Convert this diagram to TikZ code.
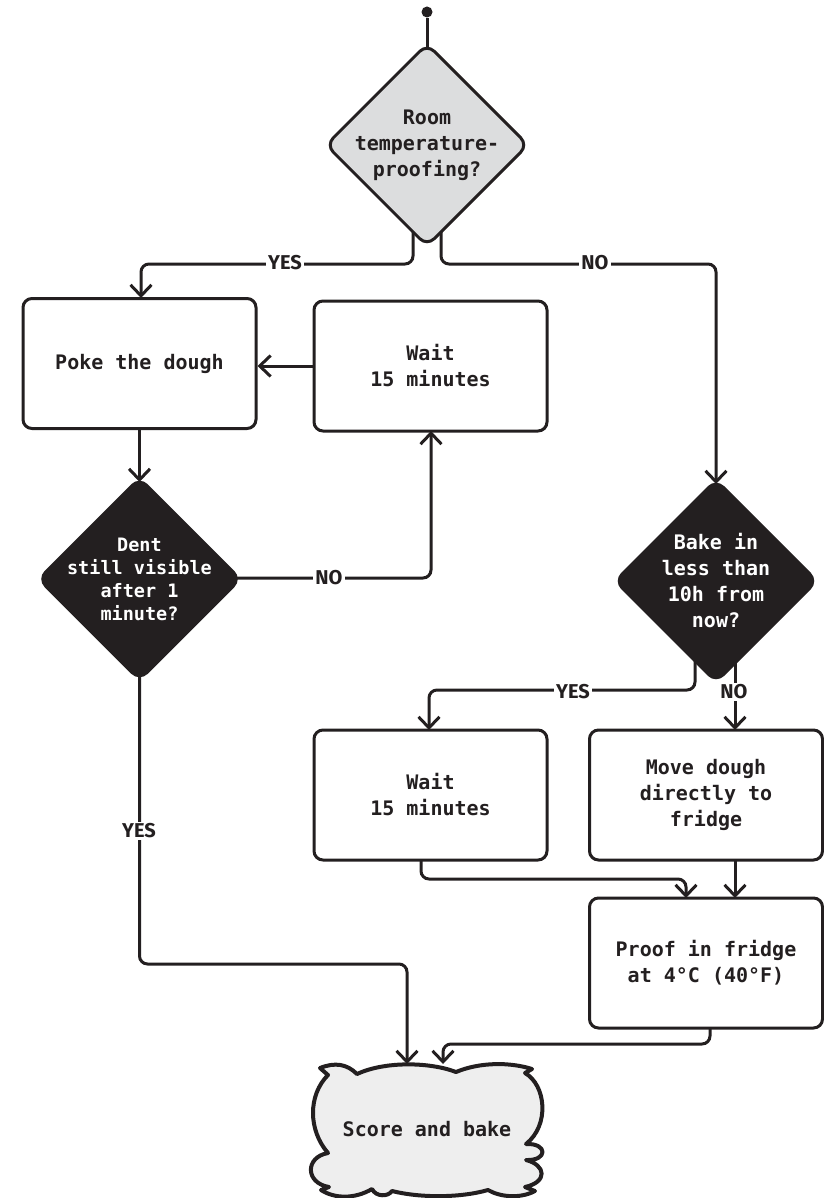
\documentclass[tikz,border=0pt]{standalone}
\usepackage{fontspec}
\setmainfont{DejaVu Sans Mono}
\newfontfamily\flowfont{Fira Sans}[BoldFont={Fira Sans Bold}]
\usetikzlibrary{arrows.meta,shapes.geometric}
\definecolor{ink}{HTML}{231F20}
\definecolor{lightgrey}{HTML}{DCDDDE}
\definecolor{cloudgrey}{HTML}{EEEEEE}
\tikzset{
  flow/.style={draw=ink, line width=3pt, rounded corners=8pt, -{Straight Barb[length=11pt,width=21pt,line width=3pt]}},
  plain/.style={draw=ink, line width=3pt, rounded corners=8pt},
  stepbox/.style={draw=ink, line width=3pt, rounded corners=9pt, fill=white, minimum width=233pt, minimum height=130pt, inner sep=0pt},
  boxtext/.style={font=\fontsize{20}{26}\selectfont\bfseries, text=ink, align=center},
  decision/.style={diamond, aspect=1, draw=ink, line width=3pt, rounded corners=10pt, minimum width=203pt, minimum height=203pt, inner sep=0pt},
  flowlabel/.style={font=\flowfont\fontsize{20}{20}\selectfont\bfseries, text=ink, fill=white, inner sep=2pt},
}
\begin{document}
\begin{tikzpicture}[x=1pt, y=-1pt]
  \useasboundingbox (0, 0) rectangle (823, 1198);
  % decisions
  \node[decision, fill=lightgrey] (room) at (427, 145) {};
  \node[boxtext] (roomtext) at (427, 145) {Room\\temperature-\\proofing?};
  \node[decision, fill=ink] (dent) at (139.5, 579) {};
  \node[boxtext, text=white, font=\fontsize{18.5}{23}\selectfont\bfseries] (denttext) at (139.5, 579) {Dent\\still visible\\after 1\\minute?};
  \node[decision, fill=ink] (bake) at (716, 581) {};
  \node[boxtext, text=white] (baketext) at (716, 581) {Bake in\\less than\\10h from\\now?};
  % steps
  \node[stepbox, boxtext] (poke) at (139.5, 363.5) {Poke the dough};
  \node[stepbox, boxtext] (waitfirst) at (430.5, 366) {Wait\\15 minutes};
  \node[stepbox, boxtext] (waitsecond) at (430.5, 795) {Wait\\15 minutes};
  \node[stepbox, boxtext] (move) at (706, 795) {Move dough\\directly to\\fridge};
  \node[stepbox, boxtext] (proof) at (706, 963) {Proof in fridge\\at 4°C (40°F)};
  % final step
  \draw[ink, line width=4pt, fill=cloudgrey, line join=round, line cap=round]
    (320, 1068) .. controls (335, 1062) and (347, 1064) .. (357, 1074)
    .. controls (385, 1061) and (430, 1062) .. (456, 1072)
    .. controls (480, 1062) and (510, 1062) .. (532, 1069)
    -- (525, 1073)
    .. controls (546, 1085) and (550, 1125) .. (526, 1144)
    .. controls (548, 1143) and (548, 1161) .. (526, 1160)
    .. controls (546, 1165) and (548, 1182) .. (525, 1187)
    -- (535, 1191)
    .. controls (520, 1199) and (500, 1197) .. (488, 1190)
    .. controls (460, 1198) and (420, 1198) .. (392, 1191)
    .. controls (388, 1197) and (376, 1197) .. (372, 1189)
    .. controls (355, 1199) and (335, 1199) .. (321, 1190)
    -- (329, 1187)
    .. controls (305, 1183) and (305, 1157) .. (328, 1153)
    .. controls (308, 1130) and (308, 1095) .. (328, 1075)
    -- cycle;
  \node[boxtext, minimum width=230pt, minimum height=130pt, inner sep=0pt] (score) at (427, 1129) {Score and bake};
  % start
  \node[circle, fill=ink, minimum size=11pt, inner sep=0pt] (start) at (427, 12) {};
  \coordinate (roomtop) at (427, 48);
  \draw[plain] (start) -- (roomtop);
  % connectors
  \coordinate (roomyes) at (413, 232);
  \coordinate (roomno) at (441, 232);
  \coordinate (baketop) at (716, 484);
  \coordinate (bakeyes) at (695, 660);
  \coordinate (bakeno) at (735, 660);
  \coordinate (denttop) at (139.5, 482);
  \coordinate (dentno) at (234, 578);
  \coordinate (dentyes) at (139.5, 674);
  \draw[flow] (roomyes) -- (413, 264) -- (141, 264) -- (141, 298);
  \draw[flow] (roomno) -- (441, 264) -- (716, 264) -- (baketop);
  \draw[flow] (waitfirst.west) -- (poke.east |- waitfirst.west);
  \draw[flow] (poke) -- (denttop);
  \draw[flow] (dentno) -- (431, 578) -- (431, 431);
  \draw[flow] (dentyes) -- (139.5, 964) -- (407, 964) -- (407, 1064);
  \draw[flow] (bakeyes) -- (695, 690) -- (429, 690) -- (429, 730);
  \draw[flow] (bakeno) -- (735, 730);
  \draw[flow] (421, 860) -- (421, 879) -- (686, 879) -- (686, 898);
  \draw[flow] (735, 860) -- (735, 898);
  \draw[flow] (710, 1028) -- (710, 1044) -- (443, 1044) -- (443, 1064);
  % labels
  \node[flowlabel] (yesroom) at (285, 263) {YES};
  \node[flowlabel] (noroom) at (595, 263) {NO};
  \node[flowlabel] (nodent) at (329, 578) {NO};
  \node[flowlabel] (yesdent) at (139, 831) {YES};
  \node[flowlabel] (yesbake) at (573, 692) {YES};
  \node[flowlabel] (nobake) at (734, 692) {NO};
\end{tikzpicture}
\end{document}
